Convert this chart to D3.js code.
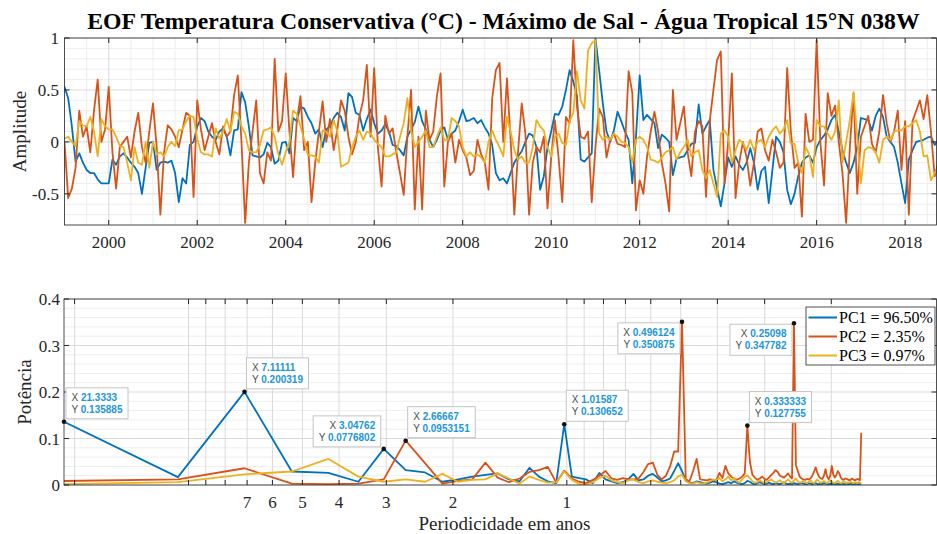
<!DOCTYPE html>
<html><head><meta charset="utf-8">
<script src="https://cdn.jsdelivr.net/npm/d3@7"></script>
<style>body{margin:0;background:#fff}svg{display:block}</style>
</head><body><svg id="c" width="937" height="534"></svg>
<script>
// ---------------- DATA ----------------
const titleText = "EOF Temperatura Conservativa (°C) - Máximo de Sal - Água Tropical 15°N 038W";
const seriesNames = ["PC1 = 96.50%", "PC2 = 2.35%", "PC3 = 0.97%"];
const startYear = 1999; // monthly samples from Jan 1999
const pc1Amp = [0.53,0.42,0.15,-0.19,-0.11,-0.2,-0.27,-0.3,-0.3,-0.36,
-0.4,-0.4,-0.4,-0.17,-0.22,-0.14,-0.11,-0.15,-0.2,-0.24,
-0.3,-0.5,-0.25,-0.01,0.0,-0.27,-0.2,-0.19,-0.2,-0.18,
-0.3,-0.58,-0.35,-0.4,-0.03,0.0,0.15,0.23,0.2,0.1,
0.05,0.02,0.1,0.13,0.05,-0.13,0.11,0.12,0.48,0.38,
0.15,-0.13,-0.14,-0.15,-0.12,-0.01,-0.05,-0.21,-0.18,-0.01,
0.0,-0.11,0.23,0.2,0.34,0.32,0.24,0.18,0.08,0.12,
-0.05,0.12,0.15,0.23,0.28,0.24,0.11,0.47,0.43,0.28,
0.26,0.11,0.22,0.31,0.18,0.08,0.11,0.17,0.1,-0.03,
-0.04,-0.08,-0.13,0.05,0.12,0.19,0.34,0.2,0.12,0.02,
-0.05,0.02,0.11,0.14,0.02,0.08,0.11,0.2,0.31,0.2,
0.21,0.23,0.18,0.21,0.14,0.08,-0.03,-0.3,-0.37,-0.35,
-0.4,-0.3,-0.2,-0.14,-0.09,0.0,0.08,0.06,-0.05,-0.46,
-0.33,-0.05,0.1,0.27,0.26,0.34,0.5,0.69,0.58,0.44,
-0.17,-0.19,-0.15,-0.11,1.0,0.69,0.37,0.1,0.0,0.11,
0.29,0.2,0.1,0.02,-0.4,0.05,0.64,0.21,0.26,0.22,
0.18,-0.06,0.07,0.04,0.0,-0.32,-0.16,-0.15,-0.14,-0.08,
-0.02,-0.01,0.36,0.08,0.15,0.21,-0.27,-0.45,-0.62,-0.4,
-0.15,-0.24,-0.14,-0.22,-0.27,-0.2,-0.06,-0.2,-0.46,-0.28,
-0.24,-0.59,-0.27,0.05,0.0,-0.1,-0.46,-0.6,-0.5,-0.33,
-0.2,-0.15,-0.13,-0.2,-0.05,0.02,0.06,0.12,0.21,0.26,
0.1,-0.08,-0.2,-0.3,-0.2,-0.05,0.23,0.22,0.21,0.11,
0.25,0.32,0.24,0.05,0.0,-0.05,-0.2,-0.4,-0.59,-0.17,
-0.08,0.0,0.01,0.02,0.04,0.05,-0.03,0.02];
const pc2Amp = [0.0,-0.54,-0.45,-0.25,0.3,0.05,0.15,-0.1,0.3,0.6,
0.0,0.12,0.53,-0.1,-0.45,-0.05,0.0,0.05,-0.15,0.1,
0.28,-0.05,-0.2,0.1,0.37,-0.05,-0.7,-0.1,0.16,0.12,
0.05,-0.05,0.12,0.28,0.25,-0.53,0.4,0.12,-0.08,0.05,
0.18,0.0,-0.12,0.15,0.05,0.1,0.45,0.64,0.0,-0.78,
-0.2,0.1,0.4,-0.3,-0.4,-0.1,-0.18,0.8,0.1,0.2,
0.66,0.1,-0.34,0.2,0.44,-0.08,0.0,-0.58,-0.2,0.1,
0.39,0.0,0.22,-0.08,0.12,0.4,0.3,0.05,-0.12,0.0,
0.25,0.4,0.74,0.05,0.71,-0.05,-0.43,0.25,0.08,0.13,
-0.1,-0.3,-0.51,0.05,0.5,-0.65,0.05,-0.65,0.3,0.02,
0.1,0.44,0.66,-0.43,0.0,0.08,-0.2,0.02,-0.08,-0.15,
-0.32,-0.28,0.02,-0.12,-0.2,-0.46,0.42,0.69,0.76,0.0,
0.61,0.02,-0.7,-0.1,0.37,0.08,-0.7,-0.2,-0.05,-0.1,
0.05,-0.64,-0.15,0.21,-0.15,-0.58,0.24,0.18,0.98,0.34,
0.05,0.03,0.1,-0.58,-0.05,0.32,0.24,-0.15,0.02,0.08,
-0.02,-0.03,-0.05,0.68,0.47,-0.66,-0.37,-0.5,-0.14,0.1,
0.29,0.1,-0.2,-0.4,-0.67,0.5,0.02,0.18,0.34,-0.1,
-0.33,0.1,0.2,0.15,-0.53,0.2,0.5,0.79,0.87,-0.4,
0.0,0.66,-0.54,-0.2,0.0,-0.15,-0.42,-0.2,0.1,0.13,
-0.08,-0.18,0.02,-0.1,-0.25,-0.2,0.71,0.1,-0.25,-0.2,
-0.72,0.27,0.0,0.02,0.98,0.0,-0.42,0.47,0.25,0.35,
0.0,-0.3,-0.78,-0.05,0.47,-0.5,0.05,0.15,0.25,-0.02,
-0.1,0.1,0.45,0.18,0.0,0.1,0.3,-0.27,0.2,-0.7,
0.2,0.3,0.4,0.22,0.45,0.1,-0.33,-0.2];
const pc3Amp = [0.03,0.05,0.0,-0.04,0.2,0.16,0.15,0.24,0.1,-0.14,
0.22,0.15,0.12,0.12,0.05,-0.04,-0.05,-0.2,-0.37,-0.05,
-0.2,-0.22,0.0,-0.25,0.0,-0.12,-0.1,-0.14,-0.05,0.0,
-0.04,0.11,0.12,0.2,0.25,0.24,0.03,-0.1,-0.12,-0.12,
-0.14,0.13,0.03,0.1,0.22,0.1,0.29,0.27,0.15,0.08,
-0.08,-0.1,-0.1,-0.03,0.11,0.12,0.14,0.05,-0.12,-0.22,
-0.1,0.0,0.3,0.27,0.15,0.02,-0.13,-0.13,-0.14,-0.2,
0.11,0.1,0.05,0.21,0.1,-0.24,-0.22,-0.2,-0.05,0.05,
0.11,0.02,0.1,0.08,0.02,-0.02,-0.05,-0.14,-0.14,-0.12,
-0.1,0.05,0.18,0.42,0.11,-0.05,0.0,0.05,0.11,-0.05,
-0.05,0.05,0.14,0.02,0.02,0.23,0.2,0.15,-0.05,-0.14,
-0.1,-0.14,-0.12,-0.15,-0.2,0.0,0.11,0.02,-0.05,-0.14,
0.24,0.1,-0.08,-0.17,-0.14,-0.2,-0.2,-0.05,0.21,0.15,
0.11,-0.05,-0.14,0.05,0.08,-0.01,-0.03,0.2,0.28,0.68,
0.4,0.32,0.88,0.95,0.98,0.08,0.02,0.05,0.02,0.08,
0.05,0.0,-0.01,-0.05,-0.2,0.02,0.05,0.02,-0.05,-0.17,
-0.18,-0.2,-0.15,-0.1,-0.08,-0.05,-0.17,-0.1,-0.05,0.02,
-0.14,-0.1,-0.08,-0.27,-0.35,-0.27,-0.4,-0.53,0.08,0.11,
0.05,-0.2,-0.08,0.02,-0.01,-0.08,0.02,-0.08,0.0,0.02,
-0.05,0.05,0.11,0.15,0.08,0.12,0.21,-0.02,-0.02,-0.2,
-0.3,-0.05,-0.12,-0.34,0.21,0.15,0.15,0.08,0.02,0.1,
0.4,-0.2,0.0,0.21,0.48,0.05,-0.4,-0.08,-0.05,-0.06,
-0.1,-0.2,0.02,0.05,0.02,0.1,0.11,0.11,0.15,0.15,
0.18,0.21,0.1,-0.14,-0.13,-0.37,-0.3,-0.25];
const yearTicks = [2000,2002,2004,2006,2008,2010,2012,2014,2016,2018];
const ampTicks = [-0.5,0,0.5,1];

// Spectrum: harmonics k = 1..128 of a 256-point FFT of monthly data
const nfft = 256;
const pc1Pow = [0.135885,0.017,0.200319,0.029,0.026,0.007,0.0776802,0.032,0.027,0.007,
0.012,0.018,0.022,0.025,0.012,0.008,0.037,0.018,0.008,0.004,
0.130652,0.018,0.015,0.012,0.004,0.026,0.012,0.008,0.004,0.006,
0.012,0.024,0.01,0.012,0.02,0.024,0.016,0.008,0.01,0.014,
0.03,0.047,0.03,0.01,0.005,0.004,0.008,0.006,0.004,0.003,
0.005,0.008,0.006,0.003,0.002,0.004,0.006,0.004,0.008,0.005,
0.003,0.002,0.004,0.009,0.007,0.003,0.002,0.004,0.006,0.004,
0.002,0.003,0.005,0.003,0.002,0.004,0.003,0.002,0.004,0.006,
0.003,0.002,0.003,0.002,0.004,0.003,0.002,0.003,0.005,0.003,
0.002,0.002,0.004,0.003,0.002,0.003,0.004,0.002,0.002,0.003,
0.002,0.004,0.003,0.002,0.002,0.003,0.002,0.003,0.002,0.002,
0.003,0.002,0.002,0.003,0.002,0.002,0.003,0.002,0.002,0.003,
0.002,0.002,0.002,0.003,0.002,0.002,0.002,0.003];
const pc2Pow = [0.0086,0.012,0.036,0.003,0.002,0.003,0.012,0.0953151,0.047,0.003,
0.009,0.012,0.048,0.016,0.006,0.014,0.028,0.032,0.039,0.005,
0.031,0.014,0.007,0.004,0.011,0.02,0.03,0.014,0.011,0.015,
0.012,0.012,0.014,0.028,0.045,0.048,0.022,0.012,0.02,0.04,
0.072,0.072,0.350875,0.012,0.008,0.03,0.056,0.012,0.011,0.01,
0.012,0.011,0.01,0.026,0.015,0.041,0.025,0.018,0.014,0.011,
0.014,0.018,0.025,0.127755,0.05,0.022,0.016,0.011,0.014,0.018,
0.013,0.011,0.016,0.021,0.026,0.032,0.028,0.02,0.018,0.016,
0.02,0.025,0.018,0.014,0.347782,0.043,0.03,0.018,0.014,0.012,
0.011,0.013,0.012,0.014,0.02,0.028,0.038,0.026,0.018,0.014,
0.013,0.02,0.034,0.018,0.012,0.02,0.041,0.022,0.016,0.021,
0.03,0.025,0.016,0.012,0.011,0.014,0.013,0.012,0.01,0.011,
0.014,0.012,0.01,0.011,0.013,0.012,0.01,0.1125];
const pc3Pow = [0.002,0.006,0.023,0.029,0.056,0.018,0.007,0.012,0.007,0.024,
0.007,0.011,0.012,0.025,0.014,0.003,0.018,0.011,0.005,0.006,
0.029,0.011,0.002,0.001,0.006,0.015,0.02,0.01,0.006,0.004,
0.01,0.012,0.006,0.004,0.008,0.01,0.007,0.005,0.004,0.006,
0.01,0.018,0.022,0.008,0.004,0.003,0.006,0.004,0.003,0.005,
0.008,0.012,0.01,0.015,0.008,0.012,0.018,0.01,0.015,0.008,
0.005,0.012,0.018,0.02,0.015,0.008,0.005,0.006,0.01,0.007,
0.004,0.006,0.009,0.012,0.008,0.005,0.007,0.01,0.006,0.004,
0.008,0.012,0.007,0.005,0.01,0.014,0.008,0.005,0.006,0.009,
0.006,0.004,0.007,0.01,0.006,0.004,0.008,0.012,0.007,0.005,
0.006,0.009,0.006,0.004,0.007,0.01,0.008,0.005,0.004,0.007,
0.009,0.006,0.004,0.005,0.008,0.006,0.004,0.006,0.005,0.007,
0.005,0.004,0.006,0.005,0.004,0.006,0.005,0.004];
const periodTicks = [20,10,9,8,7,6,5,4,3,2,1,0.9,0.8,0.7,0.6,0.5,0.4,0.3,0.2];
const periodLabels = [7,6,5,4,3,2,1];
const powTicks = [0,0.1,0.2,0.3,0.4];
// data tips: series index and harmonic index
const tipSeries = [0,0,0,1,0,1,1,1];
const tipHarmonic = [1,3,7,8,21,43,85,64];

// ---------------- STYLE ----------------
const SERIF = '"Liberation Serif","Times New Roman",serif';
const SANS = '"Liberation Sans",Arial,sans-serif';
const AX = "#262626";
const colors = ["#0072BD", "#D95319", "#EDB120"];
const MAJ = "#dadada", MIN = "#eeeeee";
const tipPlace = ["ne","ne","nw","ne","ne","sw","sw","ne"];
const TIPBLUE = "#2196d8";
const LW = 1.8;

const svg = d3.select("#c");
svg.append("rect").attr("width",937).attr("height",534).attr("fill","#fff");

// ---------------- TOP PANEL ----------------
const T = {l:64.5, r:937, t:38, b:225};
const xT = d3.scaleLinear().domain([1999, 2018.72]).range([T.l, T.r]);
const yT = d3.scaleLinear().domain([-0.8, 1]).range([T.b, T.t]);
const defs = svg.append("defs");
defs.append("clipPath").attr("id","clipT").append("rect").attr("x",T.l).attr("y",T.t).attr("width",T.r-T.l).attr("height",T.b-T.t);

const gT = svg.append("g");
d3.range(1999, 2019, 0.5).filter(v => !yearTicks.includes(v)).forEach(v => {
  gT.append("line").attr("x1",xT(v)).attr("x2",xT(v)).attr("y1",T.t).attr("y2",T.b).attr("stroke",MIN);
});
d3.range(-8, 10).map(v => v/10).filter(v => Math.abs(v*2 - Math.round(v*2))>1e-6).forEach(v => {
  gT.append("line").attr("x1",T.l).attr("x2",T.r).attr("y1",yT(v)).attr("y2",yT(v)).attr("stroke",MIN);
});
yearTicks.forEach(v => gT.append("line").attr("x1",xT(v)).attr("x2",xT(v)).attr("y1",T.t).attr("y2",T.b).attr("stroke",MAJ));
ampTicks.forEach(v => gT.append("line").attr("x1",T.l).attr("x2",T.r).attr("y1",yT(v)).attr("y2",yT(v)).attr("stroke",MAJ));

const lineT = d3.line().x((d,i) => xT(startYear + i/12)).y(d => yT(d));
const gLT = svg.append("g").attr("clip-path","url(#clipT)");
[pc1Amp, pc2Amp, pc3Amp].forEach((s,j) => {
  gLT.append("path").attr("d", lineT(s)).attr("fill","none").attr("stroke",colors[j]).attr("stroke-width",LW).attr("stroke-linejoin","round");
});
svg.append("rect").attr("x",T.l).attr("y",T.t).attr("width",T.r-T.l-0.5).attr("height",T.b-T.t).attr("fill","none").attr("stroke",AX).attr("stroke-width",0.8);
yearTicks.forEach(v => {
  svg.append("line").attr("x1",xT(v)).attr("x2",xT(v)).attr("y1",T.b).attr("y2",T.b-5).attr("stroke",AX);
  svg.append("line").attr("x1",xT(v)).attr("x2",xT(v)).attr("y1",T.t).attr("y2",T.t+5).attr("stroke",AX);
  svg.append("text").attr("x",xT(v)).attr("y",248).attr("text-anchor","middle").attr("font-family",SERIF).attr("font-size",17).attr("fill",AX).text(v);
});
ampTicks.forEach(v => {
  svg.append("line").attr("x1",T.l).attr("x2",T.l+5).attr("y1",yT(v)).attr("y2",yT(v)).attr("stroke",AX);
  svg.append("line").attr("x1",T.r-0.5).attr("x2",T.r-5.5).attr("y1",yT(v)).attr("y2",yT(v)).attr("stroke",AX);
  svg.append("text").attr("x",59).attr("y",yT(v)+6).attr("text-anchor","end").attr("font-family",SERIF).attr("font-size",17).attr("fill",AX).text(v);
});
svg.append("text").attr("transform","translate(26,"+((T.t+T.b)/2)+") rotate(-90)").attr("text-anchor","middle").attr("font-family",SERIF).attr("font-size",19).attr("fill",AX).text("Amplitude");

const title = svg.append("text").attr("x",503.5).attr("y",29).attr("text-anchor","middle").attr("font-family",SERIF).attr("font-weight","bold").attr("font-size",23).attr("fill","#000").text(titleText);
const tw = title.node().getComputedTextLength();
title.attr("font-size", 23*833/tw);

// ---------------- BOTTOM PANEL ----------------
const B = {l:64, r:937, t:299, b:485};
const xB = d3.scaleLog().domain([nfft/12, 0.1051]).range([B.l, B.r]);
const yB = d3.scaleLinear().domain([0, 0.4]).range([B.b, B.t]);
defs.append("clipPath").attr("id","clipB").append("rect").attr("x",B.l).attr("y",B.t-3).attr("width",B.r-B.l).attr("height",B.b-B.t+3);
const gB = svg.append("g");
d3.range(0, 41, 2).map(v => v/100).filter(v => Math.abs(v*10 - Math.round(v*10))>1e-6).forEach(v => {
  gB.append("line").attr("x1",B.l).attr("x2",B.r).attr("y1",yB(v)).attr("y2",yB(v)).attr("stroke",MIN);
});
powTicks.forEach(v => gB.append("line").attr("x1",B.l).attr("x2",B.r).attr("y1",yB(v)).attr("y2",yB(v)).attr("stroke",MAJ));
periodTicks.forEach(v => gB.append("line").attr("x1",xB(v)).attr("x2",xB(v)).attr("y1",B.t).attr("y2",B.b).attr("stroke",MAJ));

const periodOf = k => nfft/(12*k);
const lineB = d3.line().x((d,i) => xB(periodOf(i+1))).y(d => yB(d));
const powSeries = [pc1Pow, pc2Pow, pc3Pow];
const gLB = svg.append("g").attr("clip-path","url(#clipB)");
powSeries.forEach((s,j) => {
  gLB.append("path").attr("d", lineB(s)).attr("fill","none").attr("stroke",colors[j]).attr("stroke-width",LW).attr("stroke-linejoin","round");
});
svg.append("rect").attr("x",B.l).attr("y",B.t).attr("width",B.r-B.l-0.5).attr("height",B.b-B.t).attr("fill","none").attr("stroke",AX).attr("stroke-width",0.8);
periodTicks.forEach(v => {
  svg.append("line").attr("x1",xB(v)).attr("x2",xB(v)).attr("y1",B.b).attr("y2",B.b-5).attr("stroke",AX);
  svg.append("line").attr("x1",xB(v)).attr("x2",xB(v)).attr("y1",B.t).attr("y2",B.t+5).attr("stroke",AX);
});
periodLabels.forEach(v => {
  svg.append("text").attr("x",xB(v)).attr("y",508).attr("text-anchor","middle").attr("font-family",SERIF).attr("font-size",17).attr("fill",AX).text(v);
});
powTicks.forEach(v => {
  svg.append("line").attr("x1",B.l).attr("x2",B.l+5).attr("y1",yB(v)).attr("y2",yB(v)).attr("stroke",AX);
  svg.append("line").attr("x1",B.r-0.5).attr("x2",B.r-5.5).attr("y1",yB(v)).attr("y2",yB(v)).attr("stroke",AX);
  svg.append("text").attr("x",60).attr("y",yB(v)+6).attr("text-anchor","end").attr("font-family",SERIF).attr("font-size",17).attr("fill",AX).text(v);
});
svg.append("text").attr("x",(B.l+B.r)/2+4).attr("y",530).attr("text-anchor","middle").attr("font-family",SERIF).attr("font-size",19).attr("fill",AX).text("Periodicidade em anos");
svg.append("text").attr("transform","translate(31,"+((B.t+B.b)/2)+") rotate(-90)").attr("text-anchor","middle").attr("font-family",SERIF).attr("font-size",19).attr("fill",AX).text("Potência");

// data tips
const fmt = d3.format(".6~g");
tipSeries.forEach((si, j) => {
  const k = tipHarmonic[j];
  const p = periodOf(k), v = powSeries[si][k-1];
  const px = xB(p), py = yB(v);
  const g = svg.append("g");
  const rect = g.append("rect");
  const texts = [["X", fmt(p)], ["Y", fmt(v)]].map(ln => {
    const te = g.append("text").attr("font-family",SANS).attr("font-size",10);
    te.append("tspan").attr("fill","#4d4d4d").text(ln[0] + " ");
    te.append("tspan").attr("fill",TIPBLUE).attr("font-weight","bold").text(ln[1]);
    return te;
  });
  const w = d3.max(texts, te => te.node().getComputedTextLength());
  const bw = w + 11, bh = 31;
  const pl = tipPlace[j];
  let bx, by;
  if (pl === "ne") { bx = px + 2; by = py - 3 - bh; }
  else if (pl === "nw") { bx = px - 3 - bw; by = py - 2 - bh; }
  else { bx = px - 2 - bw; by = py + 1; }
  rect.attr("x",bx).attr("y",by).attr("width",bw).attr("height",bh).attr("fill","#fff").attr("stroke","#c4c4c4").attr("stroke-width",1);
  texts.forEach((te, li) => {
    if (pl === "ne") te.attr("x", bx + 5.5).attr("text-anchor","start");
    else te.attr("x", bx + bw - 5.5).attr("text-anchor","end");
    te.attr("y", by + 13 + li*12);
  });
  svg.append("circle").attr("cx",px).attr("cy",py).attr("r",2.3).attr("fill","#111");
});

// legend
const L = {x:806, y:307, w:129, h:58};
const gL = svg.append("g");
gL.append("rect").attr("x",L.x).attr("y",L.y).attr("width",L.w).attr("height",L.h).attr("fill","#fff").attr("stroke",AX).attr("stroke-width",0.8);
seriesNames.forEach((nm, j) => {
  const yy = 317.5 + j*19;
  gL.append("line").attr("x1",808.5).attr("x2",837).attr("y1",yy).attr("y2",yy).attr("stroke",colors[j]).attr("stroke-width",2);
  gL.append("text").attr("x",839).attr("y",yy+5.5).attr("font-family",SERIF).attr("font-size",16).attr("fill","#000").text(nm);
});
</script></body></html>
